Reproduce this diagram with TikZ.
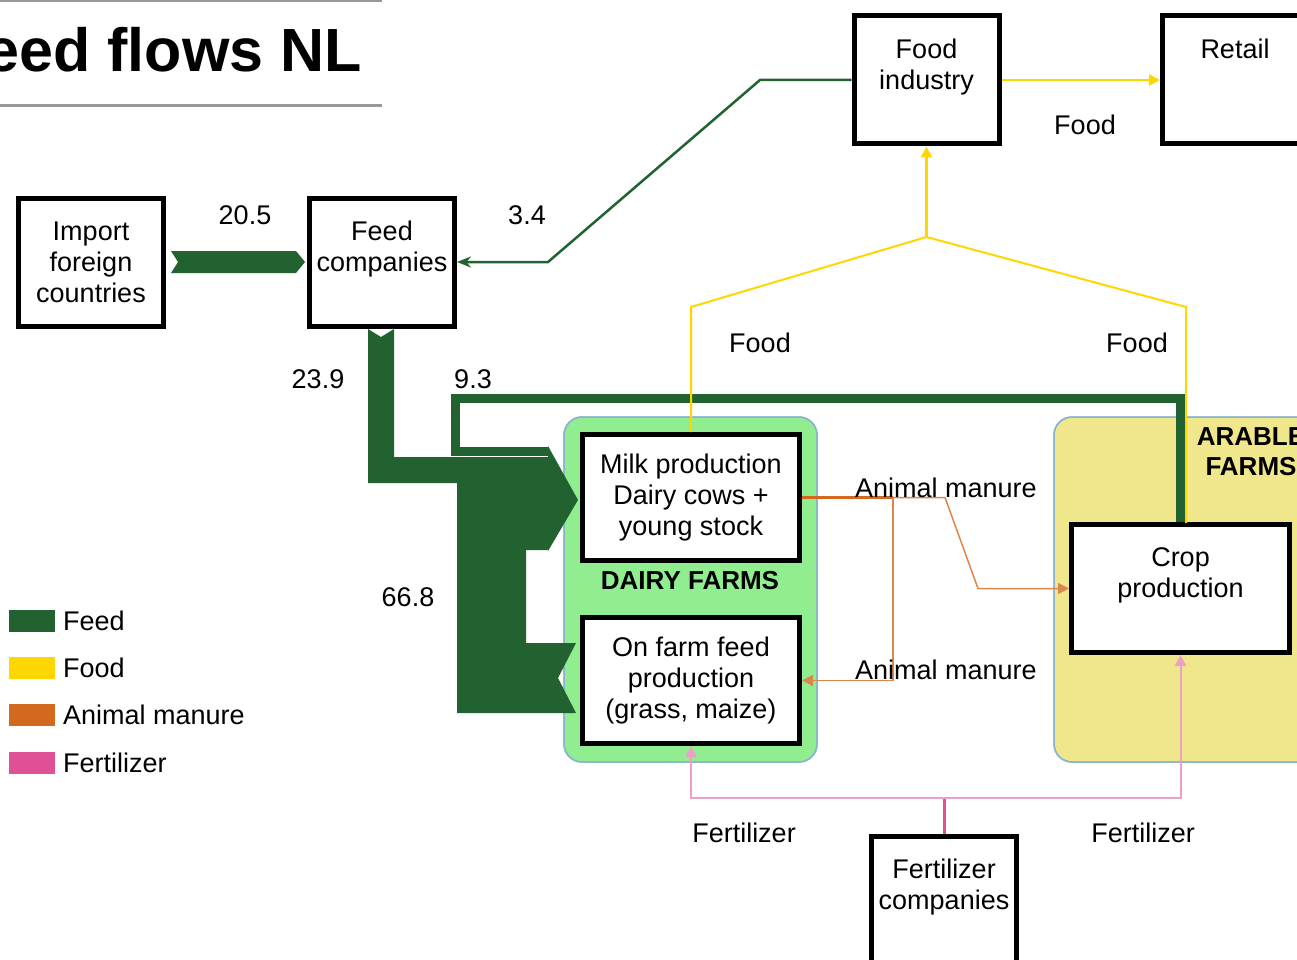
\documentclass[tikz,border=0pt]{standalone}
\usepackage{fontspec}
\setmainfont{Liberation Sans}
\usetikzlibrary{arrows.meta,calc}

\definecolor{feedgreen}{RGB}{33,98,48}
\definecolor{foodyellow}{RGB}{255,215,0}
\definecolor{manure}{RGB}{210,105,30}
\definecolor{fert}{RGB}{224,80,150}
\definecolor{dairybg}{RGB}{144,238,144}
\definecolor{arablebg}{RGB}{240,230,140}
\definecolor{farmedge}{RGB}{140,180,205}
\newcommand{\boxfont}{\fontsize{27}{31}\selectfont}
\newcommand{\farmfont}{\fontsize{26}{30}\selectfont\bfseries}

\begin{document}
\begin{tikzpicture}[x=1pt, y=-1pt,
        >={Triangle[length=11pt, width=11pt]},
        box/.style={draw, line width=5pt, fill=white, minimum width=145pt, minimum height=128pt, inner sep=0pt, align=center, font=\boxfont},
        wide/.style={box, minimum width=217pt, minimum height=126pt},
        lbl/.style={font=\boxfont, inner sep=0pt},
        farm/.style={draw=farmedge, line width=1.5pt, rounded corners=18pt},
        farmlbl/.style={font=\farmfont, align=center, inner sep=0pt},
        feedline/.style={draw=feedgreen, line width=2.5pt},
        foodline/.style={draw=foodyellow, line width=2pt},
        manureline/.style={draw=manure!80, line width=1.5pt},
        fertline/.style={draw=fert!55, line width=2pt}
    ]
        \useasboundingbox (0,0) rectangle (1297,960);
        \clip (0,0) rectangle (1297,960);

        % title
        \draw[gray!80, line width=3pt] (0,1) -- (382,1);
        \draw[gray!80, line width=3pt] (0,106) -- (382,106);
        \node[anchor=base east, inner sep=0pt, font=\fontsize{61}{70}\selectfont\bfseries] (title) at (362,72) {eed flows NL};

        % farm groups
        \fill[farm, fill=dairybg] (564,417) rectangle (817,762);
        \fill[farm, fill=arablebg] (1054,417) rectangle (1340,762);
        \draw[farm] (564,417) rectangle (817,762);
        \draw[farm] (1054,417) rectangle (1340,762);
        \node[farmlbl] (dairylbl) at (690,581) {DAIRY FARMS};
        \node[farmlbl] (arablelbl) at (1251,452) {ARABLE\\FARMS};

        % actors
        \node[box] (import) at (91,262) {Import\\foreign\\countries};
        \node[box] (feedco) at (382,262) {Feed\\companies\\~};
        \node[box] (foodind) at (926.5,80) {Food\\industry\\~};
        \node[box] (retail) at (1235,80) {Retail\\~\\~};
        \node[wide] (milk) at (691,497.5) {Milk production\\Dairy cows +\\young stock};
        \node[wide] (onfarm) at (691,680.5) {On farm feed\\production\\(grass, maize)};
        \node[wide, minimum width=218pt, minimum height=128pt] (crop) at (1180.5,588.5) {Crop\\production\\~};
        \node[box] (fertco) at (944,900) {Fertilizer\\companies\\~};

        % feed flows (widths ~ amounts)
        \fill[feedgreen] ($(import.east)+(5,-11)$) -- ($(feedco.west)+(-11,-11)$) -- ($(feedco.west)+(-2,0)$)
              -- ($(feedco.west)+(-11,11)$) -- ($(import.east)+(5,11)$) -- ($(import.east)+(12,0)$) -- cycle;
        \fill[feedgreen] (368,329) -- (381,337) -- (394,329) -- (394,457) -- (548,457) -- (548,483) -- (368,483) -- cycle;
        \fill[feedgreen] (576,643) -- (558,678) -- (576,713) -- (457,713) -- (457,483) -- (548,483)
              -- (548,550) -- (526,550) -- (526,643) -- cycle;
        \fill[feedgreen] (548,446) -- (578,500) -- (548,551) -- cycle;
        \draw[feedgreen, line width=9pt] (crop.north) -- (crop.north |- 0,398) -- (455,398) -- (455,451) -- (549,451);
        \draw[feedline, -{Stealth[length=14pt, width=11pt]}] (foodind.west) -- (760,80) -- (548,262) -- (feedco.east);

        \node[lbl] (n205) at (245,215) {20.5};
        \node[lbl] (n34) at (527,215) {3.4};
        \node[lbl] (n239) at (318,379) {23.9};
        \node[lbl] (n93) at (473,379) {9.3};
        \node[lbl] (n668) at (408,597) {66.8};

        % food
        \coordinate (fj) at (926.5,237);
        \draw[foodline] (milk.north) -- (milk.north |- 0,307) -- (fj);
        \draw[foodline] (1186,523) -- (1186,307) -- (fj);
        \draw[foodline, line width=3pt, ->] (fj) -- (foodind.south);
        \draw[foodline, ->] (foodind.east) -- (retail.west);
        \node[lbl] (food1) at (760,343) {Food};
        \node[lbl] (food2) at (1137,343) {Food};
        \node[lbl] (food3) at (1085,125) {Food};

        % animal manure
        \coordinate (mj) at (893,497.5);
        \draw[draw=manure, line width=3pt] (milk.east) -- (mj);
        \draw[manureline, ->] (mj) -- (945,497.5) -- (978,588.5) -- (crop.west);
        \draw[manureline, ->] (mj) -- (mj |- onfarm.east) -- (onfarm.east);
        \node[lbl] (man1) at (946,488) {Animal manure};
        \node[lbl] (man2) at (946,670) {Animal manure};

        % fertilizer
        \coordinate (fz) at (944,798);
        \draw[draw=fert, line width=3pt] (fertco.north) -- (fz);
        \draw[fertline, ->] (fz) -- (onfarm.south |- fz) -- (onfarm.south);
        \draw[fertline, ->] (fz) -- (crop.south |- fz) -- (crop.south);
        \node[lbl] (fert1) at (744,833) {Fertilizer};
        \node[lbl] (fert2) at (1143,833) {Fertilizer};

        % legend
        \foreach \c/\t/\y [count=\i] in {feedgreen/Feed/621, foodyellow/Food/667.5, manure/Animal manure/715, fert/Fertilizer/762.5} {
            \fill[\c] (9,\y-11) rectangle (55,\y+11);
            \node[lbl, anchor=west] (leg\i) at (63,\y) {\t};
        }
    \end{tikzpicture}
\end{document}
